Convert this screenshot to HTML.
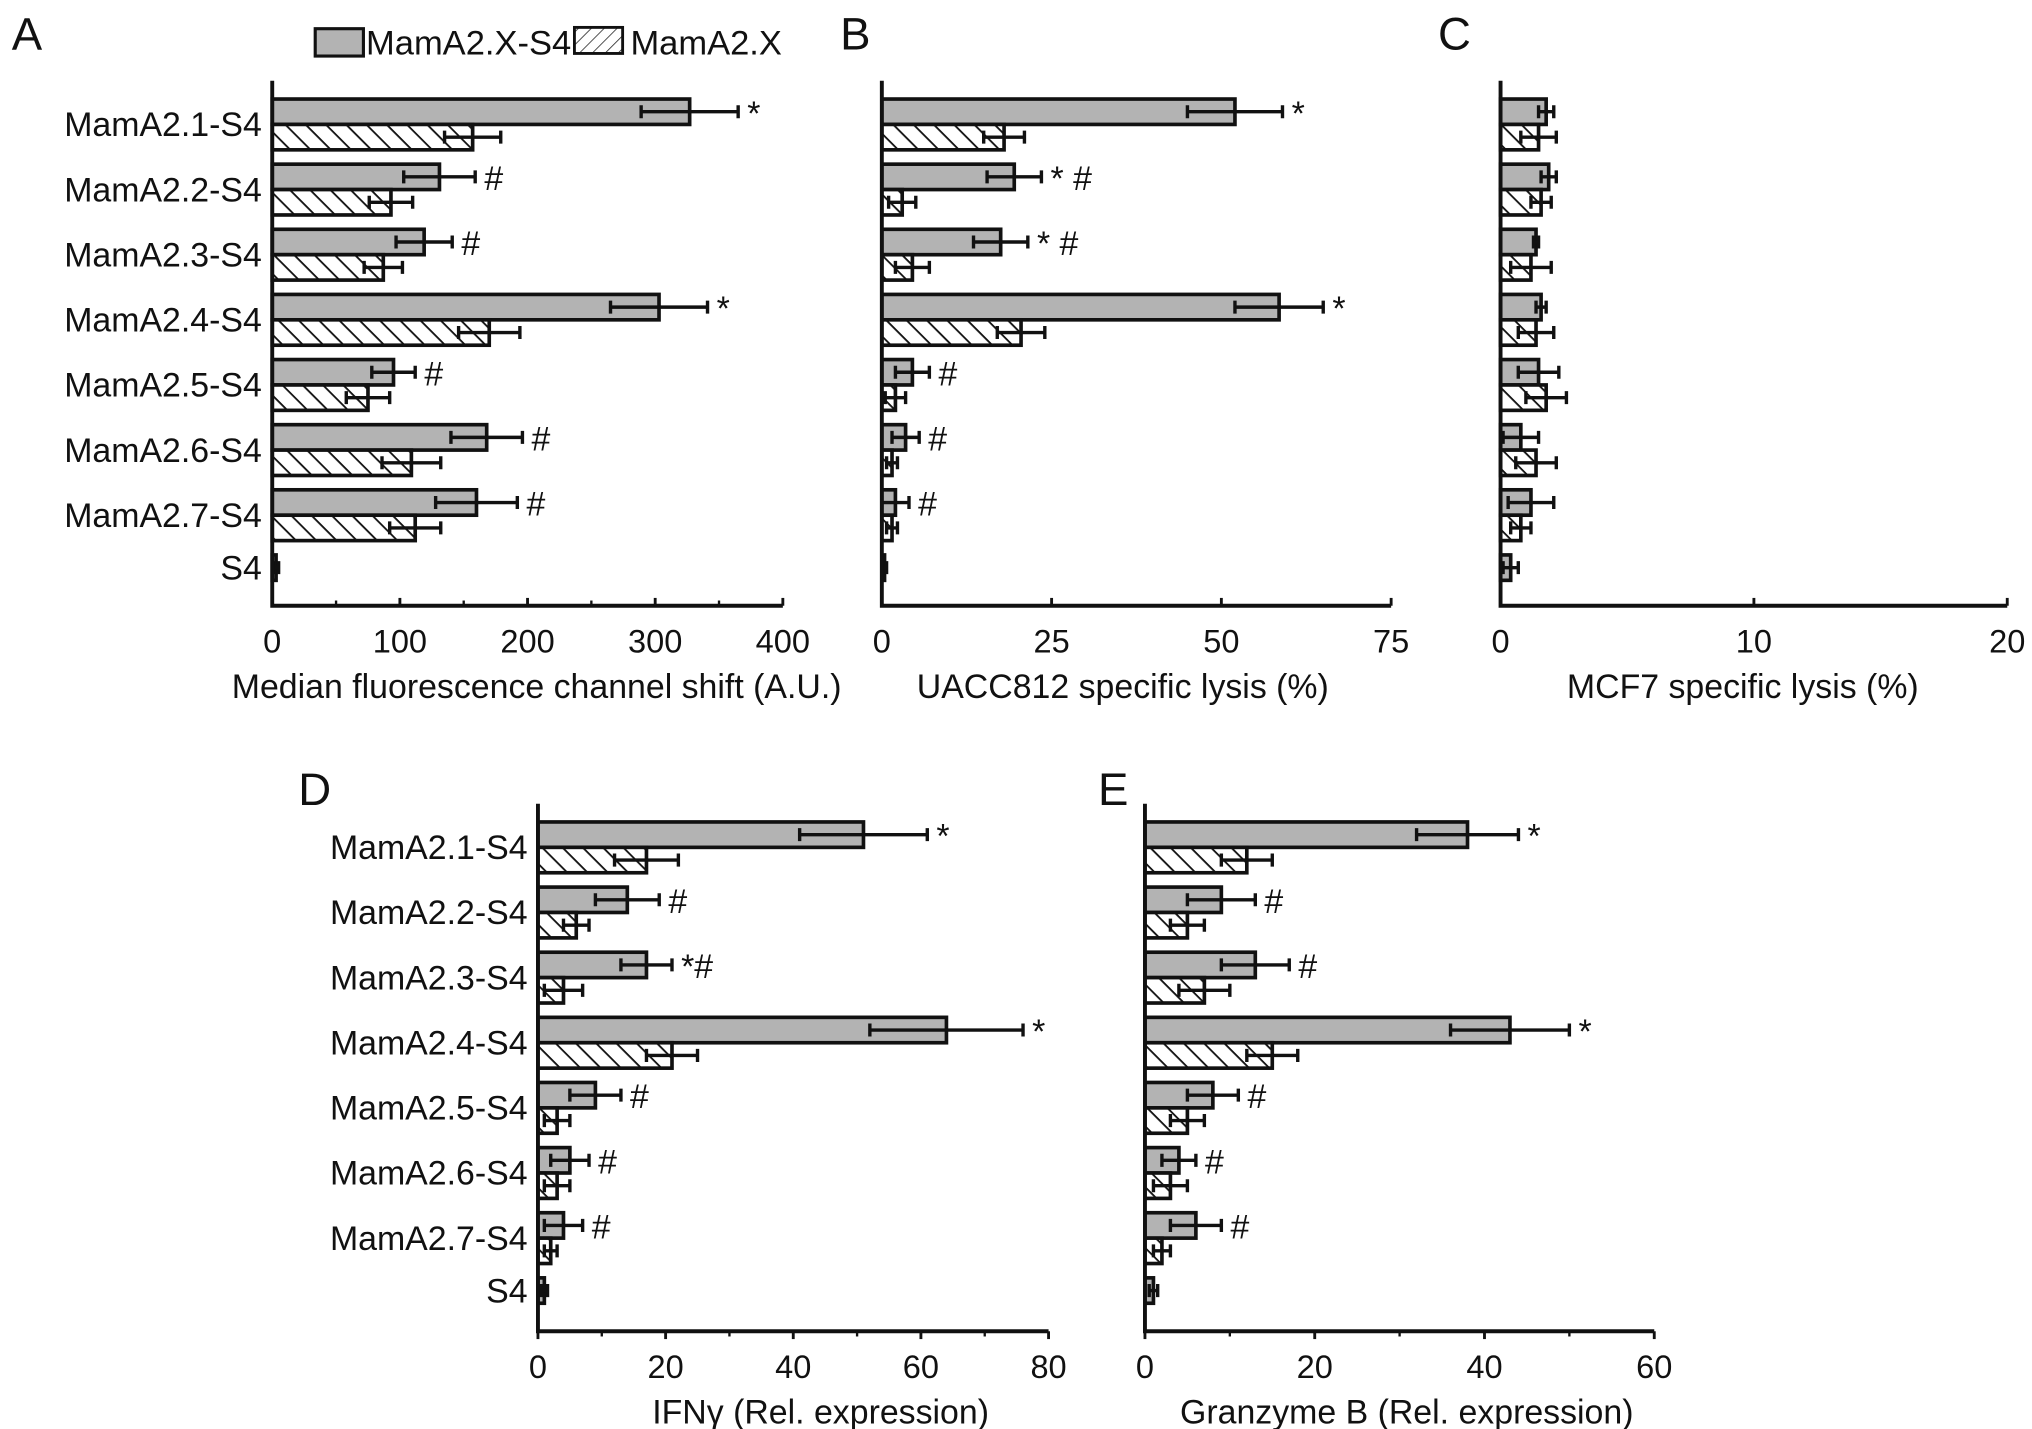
<!DOCTYPE html>
<html><head><meta charset="utf-8"><style>
html,body{margin:0;padding:0;background:#fff}
svg{display:block}
text{font-family:"Liberation Sans",Arial,sans-serif;fill:#111}
</style></head><body>
<svg id="fig" width="2032" height="1429" viewBox="0 0 1560 1097" xmlns="http://www.w3.org/2000/svg">
<defs>
<pattern id="hatch" patternUnits="userSpaceOnUse" width="11" height="11" patternTransform="rotate(45)">
<rect width="11" height="11" fill="#fff"/><line x1="0" y1="0" x2="11" y2="0" stroke="#111" stroke-width="2.8"/>
</pattern>
<pattern id="hatchL" patternUnits="userSpaceOnUse" width="7" height="7" patternTransform="rotate(-45)">
<rect width="7" height="7" fill="#fff"/><line x1="0" y1="0" x2="7" y2="0" stroke="#333" stroke-width="1.3"/>
</pattern>
</defs>
<g id="legend">
<rect x="242" y="22" width="37" height="21" fill="#b3b3b3" stroke="#111" stroke-width="2.4"/>
<text x="281" y="42" font-size="26.5">MamA2.X-S4</text>
<rect x="441" y="21" width="37" height="20" fill="url(#hatchL)" stroke="#111" stroke-width="2.2"/>
<text x="484" y="42" font-size="26.5">MamA2.X</text>
</g>
</svg>
<script>
const categories = ["MamA2.1-S4","MamA2.2-S4","MamA2.3-S4","MamA2.4-S4","MamA2.5-S4","MamA2.6-S4","MamA2.7-S4","S4"];
const aGrey = [327,131,119,303,95,168,160,3];
const aGreyErr = [38,28,22,38,17,28,32,2];
const aHatch = [157,93,87,170,75,109,112];
const aHatchErr = [22,17,15,24,17,23,20];
const aMarks = ["*","#","#","*","#","#","#",""];
const aTicks = [0,100,200,300,400];
const bGrey = [52,19.5,17.5,58.5,4.5,3.5,2,0.4];
const bGreyErr = [7,4,4,6.5,2.5,2,2,0.3];
const bHatch = [18,3,4.5,20.5,2,1.5,1.5];
const bHatchErr = [3,2,2.5,3.5,1.5,0.8,0.8];
const bMarks = ["*","* #","* #","*","#","#","#",""];
const bTicks = [0,25,50,75];
const cGrey = [1.8,1.9,1.4,1.6,1.5,0.8,1.2,0.4];
const cGreyErr = [0.3,0.3,0.1,0.2,0.8,0.7,0.9,0.3];
const cHatch = [1.5,1.6,1.2,1.4,1.8,1.4,0.8];
const cHatchErr = [0.7,0.4,0.8,0.7,0.8,0.8,0.4];
const cMarks = ["","","","","","","",""];
const cTicks = [0,10,20];
const dGrey = [51,14,17,64,9,5,4,1];
const dGreyErr = [10,5,4,12,4,3,3,0.5];
const dHatch = [17,6,4,21,3,3,2];
const dHatchErr = [5,2,3,4,2,2,1];
const dMarks = ["*","#","*#","*","#","#","#",""];
const dTicks = [0,20,40,60,80];
const eGrey = [38,9,13,43,8,4,6,1];
const eGreyErr = [6,4,4,7,3,2,3,0.5];
const eHatch = [12,5,7,15,5,3,2];
const eHatchErr = [3,2,3,3,2,2,1];
const eMarks = ["*","#","#","*","#","#","#",""];
const eTicks = [0,20,40,60];

const NS="http://www.w3.org/2000/svg";
const svg=document.getElementById('fig');
function mk(tag,attrs,parent){const e=document.createElementNS(NS,tag);for(const k in attrs)e.setAttribute(k,attrs[k]);(parent||svg).appendChild(e);return e;}

function panel(id,letter,lx,ly,x0,x1,top,bottom,ticks,grey,greyErr,hatch,hatchErr,marks,xlabel,xlabelX,showCats,minor,tickDir){
  const g=mk('g',{});
  
  
  const max=ticks[ticks.length-1];
  const sx=v=>x0+(v/max)*(x1-x0);
  const L=mk('text',{x:lx,y:ly,'font-size':35},g);L.textContent=letter;
  
  
  const bh=19.5, step=50;
  for(let i=0;i<categories.length;i++){
    const yg=top+14+step*i;
    if(showCats){
      const ly2=(i<hatch.length)?yg+bh+9:yg+bh/2+9;
      const t=mk('text',{x:x0-8,y:ly2,'font-size':26,'text-anchor':'end'},g);t.textContent=categories[i];
      
      
    }
    const gb=mk('rect',{x:x0,y:yg,width:Math.max(sx(grey[i])-x0,1.5),height:bh,fill:'#b3b3b3',stroke:'#111','stroke-width':2.8},g);
    
    
    const cy=yg+bh/2, lo=sx(Math.max(grey[i]-greyErr[i],0)), hi=sx(grey[i]+greyErr[i]);
    const eb=mk('path',{d:`M${lo},${cy}H${hi}M${lo},${cy-5}V${cy+5}M${hi},${cy-5}V${cy+5}`,stroke:'#111','stroke-width':2.6,fill:'none'},g);
    
    
    if(marks[i]){
      const m=mk('text',{x:hi+7,y:cy+10,'font-size':26},g);m.textContent=marks[i];
      
      
    }
    if(i<hatch.length){
      const yh=yg+bh;
      const hb=mk('rect',{x:x0,y:yh,width:Math.max(sx(hatch[i])-x0,1.5),height:bh,fill:'url(#hatch)',stroke:'#111','stroke-width':2.8},g);
      
      
      const cy2=yh+bh/2, lo2=sx(Math.max(hatch[i]-hatchErr[i],0)), hi2=sx(hatch[i]+hatchErr[i]);
      const eb2=mk('path',{d:`M${lo2},${cy2}H${hi2}M${lo2},${cy2-5}V${cy2+5}M${hi2},${cy2-5}V${cy2+5}`,stroke:'#111','stroke-width':2.6,fill:'none'},g);
      
      
    }
  }
  const ax=mk('path',{d:`M${x0},${top}V${bottom}H${x1}`,stroke:'#111','stroke-width':3,fill:'none'},g);
  
  
  for(let k=0;k<ticks.length;k++){
    const tx=sx(ticks[k]);
    mk('line',{x1:tx,y1:bottom,x2:tx,y2:bottom+6*tickDir,stroke:'#111','stroke-width':2.2},g);
    if(minor && k<ticks.length-1){const mx=sx((ticks[k]+ticks[k+1])/2);mk('line',{x1:mx,y1:bottom,x2:mx,y2:bottom+4*tickDir,stroke:'#111','stroke-width':1.8},g);}
    const tl=mk('text',{x:tx,y:bottom+36,'font-size':25,'text-anchor':'middle'},g);tl.textContent=ticks[k];
    
    
  }
  const xl=mk('text',{x:xlabelX,y:bottom+71,'font-size':26,'text-anchor':'middle'},g);xl.textContent=xlabel;
  
  
}
panel('a','A',9,38,209,601,62,465,aTicks,aGrey,aGreyErr,aHatch,aHatchErr,aMarks,'Median fluorescence channel shift (A.U.)',412,true,true,-1);
panel('b','B',645,38,677,1068,62,465,bTicks,bGrey,bGreyErr,bHatch,bHatchErr,bMarks,'UACC812 specific lysis (%)',862,false,false,-1);
panel('c','C',1104,38,1152,1541,62,465,cTicks,cGrey,cGreyErr,cHatch,cHatchErr,cMarks,'MCF7 specific lysis (%)',1338,false,false,-1);
panel('d','D',229,618,413,805,617,1022,dTicks,dGrey,dGreyErr,dHatch,dHatchErr,dMarks,'IFNγ (Rel. expression)',630,true,true,1);
panel('e','E',843,618,879,1270,617,1022,eTicks,eGrey,eGreyErr,eHatch,eHatchErr,eMarks,'Granzyme B (Rel. expression)',1080,false,true,1);
</script>
</body></html>
